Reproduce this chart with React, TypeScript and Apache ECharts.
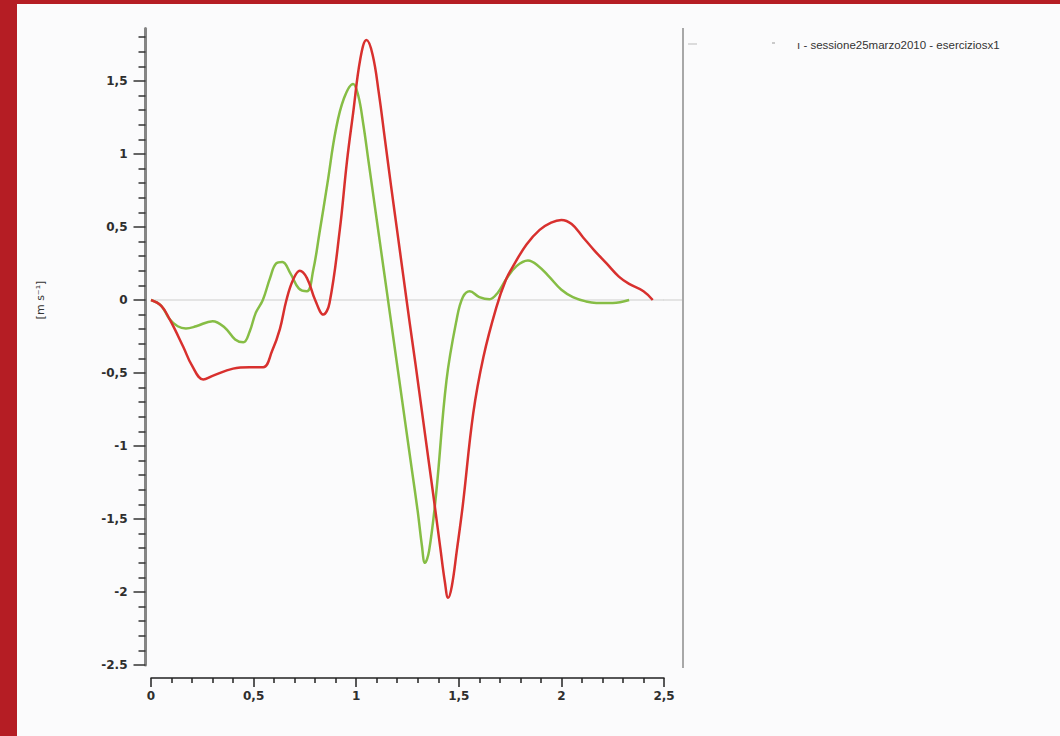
import React, { useEffect, useRef } from "react";
import * as echarts from "echarts";

// Time (s) and velocity (m/s) samples
const greenX = [0, 0.05, 0.09, 0.13, 0.17, 0.22, 0.3, 0.36, 0.41, 0.45, 0.48, 0.51, 0.545, 0.58, 0.61, 0.64, 0.68, 0.72, 0.76, 0.79, 0.82, 0.86, 0.9, 0.94, 0.985, 1.01, 1.035, 1.06, 1.09, 1.12, 1.15, 1.18, 1.21, 1.24, 1.27, 1.3, 1.32, 1.335, 1.355, 1.39, 1.44, 1.49, 1.52, 1.553, 1.6, 1.65, 1.69, 1.73, 1.78, 1.837, 1.89, 1.94, 2.0, 2.056, 2.12, 2.17, 2.25, 2.33];
const greenY = [0, -0.04, -0.13, -0.18, -0.195, -0.18, -0.145, -0.19, -0.27, -0.29, -0.22, -0.09, 0, 0.15, 0.25, 0.26, 0.18, 0.08, 0.06, 0.2, 0.45, 0.8, 1.16, 1.38, 1.48, 1.4, 1.2, 0.95, 0.65, 0.35, 0.05, -0.25, -0.55, -0.85, -1.15, -1.45, -1.68, -1.8, -1.72, -1.32, -0.55, -0.13, 0.02, 0.06, 0.02, 0.005, 0.05, 0.14, 0.23, 0.27, 0.23, 0.16, 0.07, 0.02, -0.01, -0.02, -0.02, 0];

const redX = [0, 0.05, 0.09, 0.157, 0.2, 0.255, 0.3, 0.4, 0.48, 0.547, 0.59, 0.628, 0.66, 0.693, 0.725, 0.76, 0.8, 0.84, 0.87, 0.92, 0.955, 0.985, 1.02, 1.05, 1.08, 1.11, 1.14, 1.17, 1.2, 1.23, 1.26, 1.29, 1.32, 1.35, 1.38, 1.41, 1.432, 1.448, 1.466, 1.49, 1.52, 1.57, 1.62, 1.683, 1.73, 1.764, 1.83, 1.894, 1.95, 2.0, 2.05, 2.105, 2.16, 2.22, 2.28, 2.33, 2.4, 2.445];
const redY = [0, -0.04, -0.13, -0.32, -0.45, -0.545, -0.52, -0.47, -0.46, -0.46, -0.35, -0.2, 0, 0.14, 0.2, 0.15, 0, -0.1, -0.02, 0.48, 0.95, 1.28, 1.65, 1.78, 1.68, 1.42, 1.1, 0.78, 0.47, 0.16, -0.15, -0.45, -0.76, -1.07, -1.38, -1.7, -1.93, -2.04, -1.96, -1.72, -1.4, -0.78, -0.39, -0.05, 0.14, 0.23, 0.38, 0.48, 0.53, 0.548, 0.52, 0.43, 0.34, 0.25, 0.16, 0.11, 0.06, 0];

const yMajorTicks = [-2.5, -2, -1.5, -1, -0.5, 0, 0.5, 1, 1.5];
const yMinorTicks = [-2.4, -2.3, -2.2, -2.1, -1.9, -1.8, -1.7, -1.6, -1.4, -1.3, -1.2, -1.1, -0.9, -0.8, -0.7, -0.6, -0.4, -0.3, -0.2, -0.1, 0.1, 0.2, 0.3, 0.4, 0.6, 0.7, 0.8, 0.9, 1.1, 1.2, 1.3, 1.4, 1.6, 1.7, 1.8];
const legendText = "- sessione25marzo2010 - eserciziosx1";
const yAxisName = "[m s\u207B\u00B9]";

const fmt = (v: number) => (v === -2.5 ? "-2.5" : String(v).replace(".", ","));

export default function App() {
  const ref = useRef<HTMLDivElement>(null);
  useEffect(() => {
    if (!ref.current) return;
    const chart = echarts.init(ref.current, undefined, { renderer: "svg" });
    const labelStyle = {
      color: "#2e2e2e",
      fontSize: 12,
      fontFamily: "DejaVu Sans",
      fontWeight: "bold" as const,
    };
    chart.setOption({
      animation: false,
      backgroundColor: "#fbfbfc",
      grid: { left: 134, right: 396, top: 24.4, bottom: 71, containLabel: false },
      xAxis: {
        type: "value",
        min: 0,
        max: 2.5,
        interval: 0.5,
        offset: 13,
        axisLine: { show: true, onZero: false, lineStyle: { color: "#222", width: 1.5 } },
        axisTick: { show: true, length: 9, lineStyle: { color: "#222", width: 1.5 } },
        minorTick: { show: true, splitNumber: 5, length: 5, lineStyle: { color: "#222", width: 1.5 } },
        splitLine: { show: false },
        axisLabel: { ...labelStyle, margin: 12, formatter: (v: number) => fmt(v) },
      },
      yAxis: [
        {
          type: "value",
          min: -2.5,
          max: 1.86,
          offset: 5.5,
          axisLine: { show: true, onZero: false, lineStyle: { color: "#858585", width: 3 } },
          axisTick: { show: true, length: 12, customValues: yMajorTicks, lineStyle: { color: "#333", width: 1.5 } },
          axisLabel: { ...labelStyle, margin: 18, customValues: yMajorTicks, formatter: (v: number) => fmt(v) },
          splitLine: { show: false },
        },
        {
          type: "value",
          min: -2.5,
          max: 1.86,
          position: "left",
          offset: 5.5,
          axisLine: { show: false, onZero: false },
          axisTick: { show: true, length: 7, customValues: yMinorTicks, lineStyle: { color: "#333", width: 1.5 } },
          axisLabel: { show: false },
          splitLine: { show: false },
        },
      ],
      graphic: [
        {
          type: "line",
          z: 0,
          shape: { x1: 646, y1: 296, x2: 665, y2: 296 },
          style: { stroke: "#dcdcdc", lineWidth: 1.5 },
        },
        {
          type: "line",
          shape: { x1: 666, y1: 24, x2: 666, y2: 664 },
          style: { stroke: "#a8a8a8", lineWidth: 2 },
        },
        {
          type: "line",
          shape: { x1: 671, y1: 40, x2: 680, y2: 40 },
          style: { stroke: "#bbb", lineWidth: 1 },
        },
        {
          type: "line",
          shape: { x1: 755, y1: 39, x2: 758, y2: 39 },
          style: { stroke: "#999", lineWidth: 1 },
        },
        {
          type: "text",
          x: 780,
          y: 41,
          style: {
            text: "\u0131 " + legendText,
            fill: "#333",
            fontSize: 11.5,
            fontFamily: "Liberation Sans",
            verticalAlign: "middle",
          },
        },
        {
          type: "text",
          x: 23,
          y: 296,
          rotation: Math.PI / 2,
          style: {
            text: yAxisName,
            fill: "#333",
            fontSize: 11,
            fontFamily: "DejaVu Sans",
            align: "center",
            verticalAlign: "middle",
          },
        },
      ],
      series: [
        {
          type: "line",
          data: greenX.map((x, i) => [x, greenY[i]]),
          smooth: 0.4,
          showSymbol: false,
          lineStyle: { color: "#86bd45", width: 2.5 },
          markLine: {
            silent: true,
            symbol: ["none", "none"],
            label: { show: false },
            lineStyle: { color: "#dcdcdc", width: 1.5, type: "solid" },
            data: [{ yAxis: 0 }],
            z: 1,
          },
          z: 2,
        },
        {
          type: "line",
          data: redX.map((x, i) => [x, redY[i]]),
          smooth: 0.4,
          showSymbol: false,
          lineStyle: { color: "#d8302e", width: 2.5 },
          z: 3,
        },
      ],
    });
    return () => chart.dispose();
  }, []);
  return (
    <div
      style={{
        position: "fixed",
        left: 0,
        top: 0,
        width: 1060,
        height: 736,
        background: "#b51d24",
        overflow: "hidden",
      }}
    >
      <div
        ref={ref}
        style={{ position: "absolute", left: 17, top: 4, width: 1043, height: 732 }}
      />
    </div>
  );
}
